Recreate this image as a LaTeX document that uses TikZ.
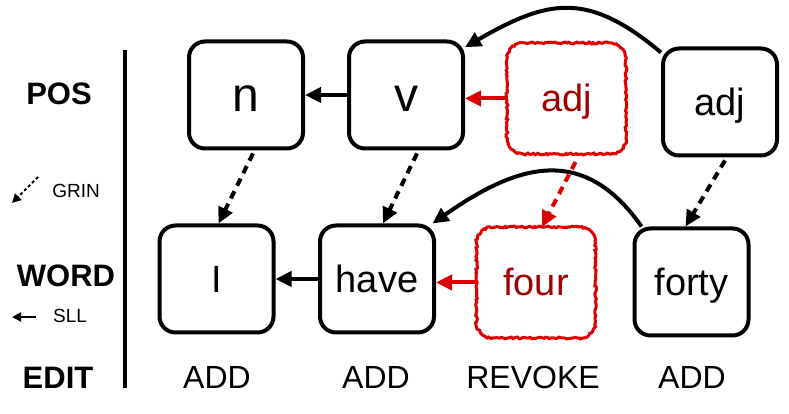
\documentclass[tikz,border=0pt]{standalone}
\usepackage{fontspec}
\setmainfont{Liberation Sans}
\usetikzlibrary{arrows.meta,decorations.pathmorphing}
\definecolor{rline}{HTML}{E00000}
\definecolor{rtext}{HTML}{A00000}
\definecolor{rarrow}{HTML}{D80000}
\newcommand\roughbox[1]{%
  \draw[roughline] ([xshift=16pt]#1.north west) -- ([xshift=-16pt]#1.north east)
    arc[start angle=90,end angle=0,radius=16pt] -- ([yshift=16pt]#1.south east)
    arc[start angle=0,end angle=-90,radius=16pt] -- ([xshift=16pt]#1.south west)
    arc[start angle=270,end angle=180,radius=16pt] -- ([yshift=-16pt]#1.north west)
    arc[start angle=180,end angle=90,radius=16pt] -- cycle;}
\begin{document}
\pgfmathsetseed{7}
\begin{tikzpicture}[x=1pt,y=1pt,
  box/.style={draw, line width=4pt, rounded corners=16pt, minimum width=114pt,
    minimum height=107pt, inner sep=0pt},
  rbox/.style={line width=3pt, minimum width=116pt, minimum height=108pt,
    inner sep=0pt, text=rtext},
  big/.style={font=\fontsize{48}{56}\selectfont, text height=43.4pt, text depth=10.2pt},
  mid/.style={font=\fontsize{38}{46}\selectfont, text height=34.4pt, text depth=8.1pt},
  roughline/.style={draw=rline, line width=3pt, decorate,
    decoration={random steps, segment length=2pt, amplitude=0.9pt}},
  sllarrow/.style={line width=4pt, -{Triangle[length=16pt,width=15pt]}},
  grinarrow/.style={sllarrow, dash pattern=on 8pt off 6pt},
  rowlabel/.style={font=\fontsize{31}{36}\selectfont\bfseries, anchor=base},
  editlabel/.style={font=\fontsize{32}{38}\selectfont, anchor=base},
  legend/.style={font=\fontsize{19}{22}\selectfont, anchor=base},
]
\useasboundingbox (0,0) rectangle (789,414);

% row labels
\node[rowlabel] (pos) at (59,309) {POS};
\node[rowlabel] (word) at (66,127) {WORD};
\node[rowlabel] (edit) at (58,25) {EDIT};
\node[legend] (grin) at (76,216) {GRIN};
\node[legend] (sll) at (70,91) {SLL};
\coordinate (g1) at (38,237);
\coordinate (g2) at (12,211);
\coordinate (s1) at (36,97);
\coordinate (s2) at (12,97);
\draw[line width=2pt, dash pattern=on 3pt off 2.5pt, -{Triangle[length=9pt,width=9pt]}] (g1) -- (g2);
\draw[line width=2pt, -{Triangle[length=9pt,width=9pt]}] (s1) -- (s2);

% divider
\coordinate (d1) at (125,364);
\coordinate (d2) at (125,26);
\draw[line width=4pt] (d1) -- (d2);

% POS row
\node[box, big] (n) at (246,319) {n};
\node[box, big] (v) at (406,319) {v};
\node[rbox, mid] (radj) at (566.5,315.5) {adj};
\node[box, mid] (adj) at (720,312) {adj};

% WORD row
\node[box, mid] (I) at (216.5,135) {I};
\node[box, mid] (have) at (377,135) {have};
\node[rbox, mid] (four) at (536,131.5) {four};
\node[box, mid] (forty) at (691.5,132) {forty};

\roughbox{radj}
\roughbox{four}

% edit labels
\node[editlabel] (e1) at (217,25) {ADD};
\node[editlabel] (e2) at (376,25) {ADD};
\node[editlabel] (e3) at (533,25) {REVOKE};
\node[editlabel] (e4) at (692,25) {ADD};

% SLL arrows
\draw[sllarrow] (v.west) -- (n.east);
\draw[sllarrow] (have.west) -- (I.east);
\draw[sllarrow, rarrow] (radj.west) -- (radj.west -| v.east);
\draw[sllarrow, rarrow] (four.west) -- (four.west -| have.east);
\draw[sllarrow] (adj.140) to[out=140,in=30,looseness=1.25] (v.39);
\draw[sllarrow] (forty.132) to[out=125,in=35,looseness=1.25] (have.45);

% GRIN arrows
\draw[grinarrow] ([xshift=7pt,yshift=-3pt]n.south) -- ([xshift=2pt]I.north);
\draw[grinarrow] ([xshift=11pt,yshift=-3pt]v.south) -- ([xshift=6pt]have.north);
\draw[grinarrow, rarrow] ([xshift=9pt,yshift=-8pt]radj.south) -- ([xshift=6pt]four.north);
\draw[grinarrow] ([xshift=5pt,yshift=-3pt]adj.south) -- ([xshift=-6pt]forty.north);
\end{tikzpicture}
\end{document}
